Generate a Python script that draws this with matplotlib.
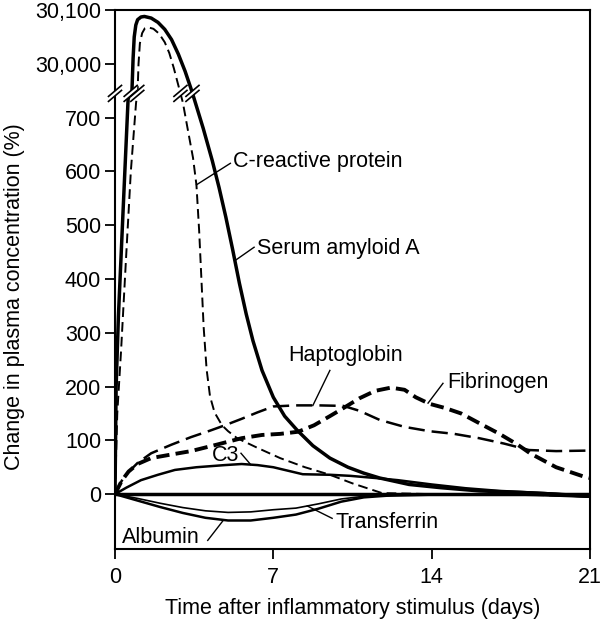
import numpy as np
import matplotlib
matplotlib.use('Agg')
import matplotlib.pyplot as plt
from matplotlib.transforms import ScaledTranslation
from matplotlib.patches import Polygon
from matplotlib.lines import Line2D
from matplotlib.ticker import FixedLocator, FuncFormatter, NullLocator

plt.rcParams['font.family'] = ['Liberation Sans', 'DejaVu Sans']
plt.rcParams['font.size'] = 15.5

# values are % change in plasma concentration
saa_days = [0, 0.05, 0.15, 0.35, 0.58, 0.75, 0.8, 0.85, 0.92, 1.0, 1.15, 1.3, 1.6, 1.9, 2.2,
            2.5, 2.8, 3.1, 3.35, 3.5, 3.9, 4.3, 4.6, 4.9, 5.2, 5.5, 5.8, 6.1, 6.5, 7.0,
            7.5, 8.05, 8.75, 9.5, 10.3, 11.0, 11.7, 13.0, 14.4, 16.1, 18.0, 19.5, 21]
saa_vals = [0, 200, 330, 520, 735, 29950, 30010, 30050, 30072, 30082, 30087, 30088, 30085, 30077, 30064,
            30045, 30018, 29986, 29955, 735, 680, 620, 570, 515, 455, 392, 335, 285, 230, 180,
            145, 119, 90, 67, 50, 39, 30, 18, 12, 6, 3, 0, -4]

crp_days = [0, 0.1, 0.27, 0.49, 0.7, 0.93, 1.0, 1.04, 1.1, 1.2, 1.32, 1.45, 1.7, 1.95, 2.2,
            2.4, 2.6, 2.8, 2.85, 3.0, 3.23, 3.45, 3.6, 3.72, 3.82, 3.92, 4.05, 4.2, 4.4, 4.73,
            5.0, 5.4, 6.3, 7.3, 8.4, 9.5, 10.5, 11.8, 14, 17, 19, 21]
crp_vals = [0, 150, 268, 440, 600, 727, 29950, 30000, 30038, 30057, 30066, 30068, 30065, 30056, 30040,
            30020, 29992, 29960, 29952, 728, 675, 625, 575, 490, 400, 310, 232, 182, 152, 128,
            117, 104, 86, 67, 50, 36, 20, 2, 0, 0, -2, -4]

hap_days = [0, 0.3, 0.57, 1.0, 1.6, 2.5, 3.36, 4.2, 4.86, 5.6, 6.3, 7.0, 8.0, 9.0, 10.1,
            10.8, 11.7, 12.8, 13.9, 15.0, 16.1, 17.2, 18.3, 19.5, 21]
hap_vals = [0, 25, 40, 58, 76, 92, 106, 118, 128, 140, 152, 163, 165, 165, 164,
            155, 138, 125, 117, 112, 104, 94, 82, 80, 81]

fib_days = [0, 0.3, 0.6, 1.0, 1.6, 2.4, 3.36, 4.5, 5.6, 6.5, 7.3, 8.1, 8.8, 9.5, 10.1,
            10.8, 11.5, 12.2, 12.8, 13.3, 13.9, 14.6, 15.3, 16.1, 17.0, 17.8, 18.35, 19.5, 20.7, 21]
fib_vals = [0, 25, 42, 56, 67, 73, 80, 92, 104, 110, 112, 116, 128, 145, 160,
            178, 192, 198, 194, 180, 168, 160, 150, 132, 112, 92, 76, 50, 33, 30]

c3_days = [0, 0.5, 1.15, 1.9, 2.65, 3.6, 4.86, 5.6, 6.3, 7.0, 7.6, 8.3, 9.5, 10.4, 11.5,
           12.5, 14, 15.5, 17, 19, 21]
c3_vals = [0, 12, 26, 36, 45, 50, 54, 56, 54, 50, 44, 37, 36, 34, 30,
           26, 18, 11, 6, 2, -4]

neg_days = [0, 1, 2, 3, 4, 5, 6, 7, 8, 9, 10, 11, 12, 14, 17, 19, 21]
alb_vals = [0, -12, -24, -35, -44, -49, -49, -44, -38, -27, -14, -6, -3, -1, 0, -2, -5]
trf_vals = [0, -8, -17, -25, -31, -34, -33, -29, -26, -18, -9, -4, -2, 0, 0, -2, -5]

yticks = [0, 100, 200, 300, 400, 500, 600, 700, 30000, 30100]
xticks = [0, 7, 14, 21]

# broken axis: everything between LO and LO+SHIFT is squeezed out
LO = 745.0
SHIFT = 29200.0
EPS = 1e-6


def fwd(v):
    v = np.asarray(v, dtype=float)
    return np.where(v <= LO, v,
                    np.where(v >= LO + SHIFT, v - SHIFT + EPS * SHIFT, LO + (v - LO) * EPS))


def inv(d):
    d = np.asarray(d, dtype=float)
    top = LO + EPS * SHIFT
    return np.where(d <= LO, d,
                    np.where(d >= top, d + SHIFT - EPS * SHIFT, LO + (d - LO) / EPS))


def crossings(days, vals, level=LO + 0.01):
    d = fwd(vals)
    out = []
    for i in range(len(days) - 1):
        if (d[i] - level) * (d[i + 1] - level) < 0:
            t = (level - d[i]) / (d[i + 1] - d[i])
            out.append(days[i] + t * (days[i + 1] - days[i]))
    return out


fig = plt.figure(figsize=(6.02, 6.24), dpi=100)
ax = fig.add_axes([115 / 602, 75 / 624, 475 / 602, 539 / 624])
ax.set_yscale('function', functions=(fwd, inv))
ax.set_xlim(0, 21)
ax.set_ylim(-102, 30100)

ax.axhline(0, color='black', lw=2.5, zorder=2)
ax.plot(neg_days, alb_vals, color='black', lw=1.8)
ax.plot(neg_days, trf_vals, color='black', lw=1.2)
ax.plot(c3_days, c3_vals, color='black', lw=1.8)
ax.plot(hap_days, hap_vals, color='black', lw=1.8, linestyle=(0, (6.5, 2.8)))
ax.plot(fib_days, fib_vals, color='black', lw=2.8, linestyle=(0, (3.4, 1.6)))
ax.plot(crp_days, crp_vals, color='black', lw=1.4, linestyle=(0, (5.0, 2.6)))
ax.plot(saa_days, saa_vals, color='black', lw=2.5, solid_joinstyle='round')

ax.xaxis.set_major_locator(FixedLocator(xticks))
ax.yaxis.set_major_locator(FixedLocator(yticks))
ax.yaxis.set_minor_locator(NullLocator())
ax.yaxis.set_major_formatter(FuncFormatter(lambda v, p: f'{v:,.0f}' if v >= 10000 else f'{v:.0f}'))
ax.tick_params(axis='both', direction='out', length=7, width=1.3, labelsize=15.5)
ax.tick_params(axis='x', pad=6)
ax.tick_params(axis='y', pad=3)
for s in ax.spines.values():
    s.set_linewidth(1.5)

ax.set_xlabel('Time after inflammatory stimulus (days)', fontsize=15.5)
ax.xaxis.set_label_coords(0.5, -0.09)
ax.set_ylabel('Change in plasma concentration (%)', fontsize=15.5)
ax.yaxis.set_label_coords(-0.19, 0.4675)


# "//" break marks on the y axis and on the two curves that cross the break
def break_mark(x):
    tr = fig.dpi_scale_trans + ScaledTranslation(x, LO, ax.transData)
    w, h, g = 0.065, 0.055, 0.025
    ax.add_patch(Polygon([(-w, -h - g), (w, h - g), (w, h + g), (-w, -h + g)], closed=True,
                         facecolor='white', edgecolor='none', transform=tr, clip_on=False, zorder=6))
    for dy in (-g, g):
        ax.add_line(Line2D([-w, w], [-h + dy, h + dy], color='black', lw=1.2,
                           transform=tr, clip_on=False, zorder=7))


break_mark(0)
for xc in crossings(saa_days, saa_vals) + crossings(crp_days, crp_vals):
    break_mark(xc)

# curve labels with leader lines
labels = [
    ('C-reactive protein', 5.2, 608, 'left', (5.1, 615), 3.6, crp_days, crp_vals),
    ('Serum amyloid A', 6.28, 446, 'left', (6.15, 459), 5.3, saa_days, saa_vals),
    ('Haptoglobin', 7.65, 248, 'left', (9.5, 230), 8.75, hap_days, hap_vals),
    ('Fibrinogen', 14.7, 197, 'left', (14.5, 206), 13.84, fib_days, fib_vals),
    ('C3', 4.9, 61, 'center', (5.57, 76), 6.0, c3_days, c3_vals),
    ('Albumin', 0.3, -91, 'left', (4.1, -86), 4.8, neg_days, alb_vals),
    ('Transferrin', 9.75, -63, 'left', (9.6, -45), 8.5, neg_days, trf_vals),
]
for text, tx, ty, ha, start, end_day, dd, vv in labels:
    ax.text(tx, ty, text, ha=ha, va='baseline', fontsize=15.5, zorder=8)
    ax.plot([start[0], end_day], [start[1], np.interp(end_day, dd, vv)], color='black', lw=1.0)

fig.savefig('out.png', dpi=100)
